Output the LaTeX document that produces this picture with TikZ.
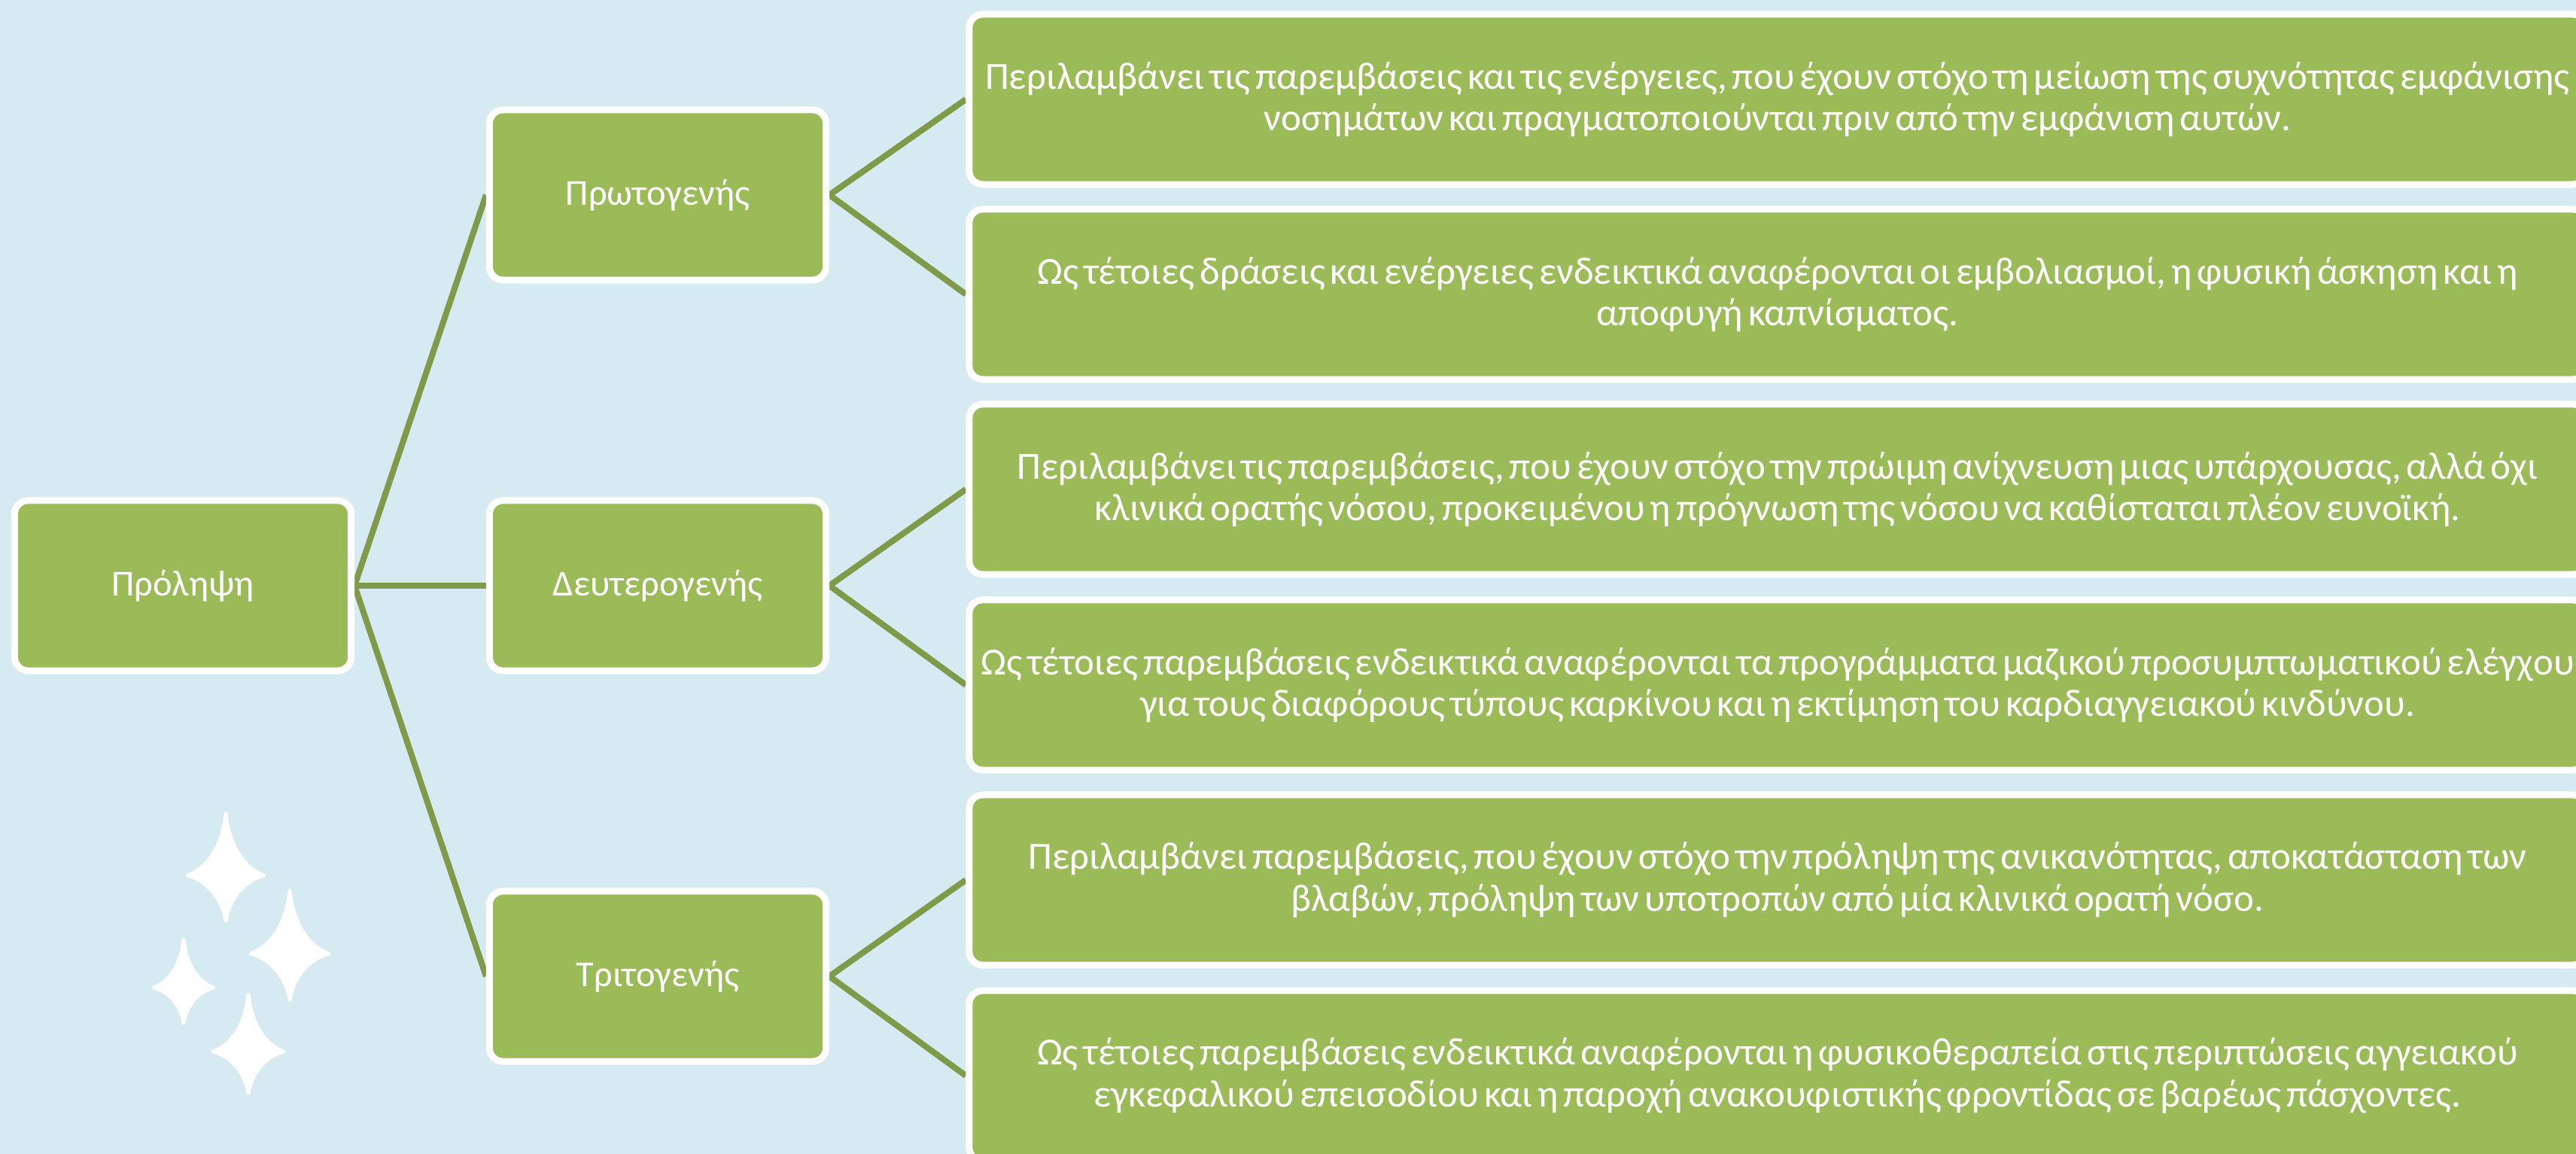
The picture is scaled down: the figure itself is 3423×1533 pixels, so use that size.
\documentclass[tikz,border=0pt]{standalone}
\usepackage{fontspec}
\setmainfont{Carlito}
\newfontfamily\notefont[WordSpace=0.6]{Carlito}
\usetikzlibrary{backgrounds}
\definecolor{bgblue}{RGB}{214,234,241}
\definecolor{leafgreen}{RGB}{155,187,89}
\definecolor{linkgreen}{RGB}{127,154,72}

\begin{document}
\begin{tikzpicture}[x=0.01cm, y=0.01cm, every node/.style={text=white},
	block/.style={draw=white, fill=leafgreen, line width=0.09cm, rounded corners=0.18cm,
		minimum width=4.47cm, minimum height=2.26cm, inner sep=0pt, font=\fontsize{13.8pt}{15.6pt}\selectfont},
	note/.style={block, minimum width=21.47cm, align=center, font=\notefont\fontsize{14.5pt}{15.8pt}\selectfont},
	link/.style={draw=linkgreen, line width=0.08cm},
	sparkle/.pic={\fill[white, draw=white, line width=0.05cm, line join=round]
		(0,82) .. controls (5,34) and (28,8) .. (51,0) .. controls (28,-5) and (5,-28) .. (0,-60)
		.. controls (-5,-28) and (-28,-5) .. (-51,0) .. controls (-28,8) and (-5,34) .. (0,82) -- cycle;}]
	\useasboundingbox (0,0) rectangle (3423,1533);
	\clip (0,0) rectangle (3423,1533);

	% tree
	\node[block] (prevent) at (243,755) {Πρόληψη};
	\node[block] (prim) at (874,1274) {Πρωτογενής};
	\node[block] (sec) at (874,755) {Δευτερογενής};
	\node[block] (tert) at (874,236) {Τριτογενής};

	\node[note] (prim1) at (2362,1401) {Περιλαμβάνει τις παρεμβάσεις και τις ενέργειες, που έχουν στόχο τη μείωση της συχνότητας εμφάνισης\\ νοσημάτων και πραγματοποιούνται πριν από την εμφάνιση αυτών.};
	\node[note] (prim2) at (2362,1142) {Ως τέτοιες δράσεις και ενέργειες ενδεικτικά αναφέρονται οι εμβολιασμοί, η φυσική άσκηση και η\\ αποφυγή καπνίσματος.};
	\node[note] (sec1) at (2362,883) {Περιλαμβάνει τις παρεμβάσεις, που έχουν στόχο την πρώιμη ανίχνευση μιας υπάρχουσας, αλλά όχι\\ κλινικά ορατής νόσου, προκειμένου η πρόγνωση της νόσου να καθίσταται πλέον ευνοϊκή.};
	\node[note] (sec2) at (2362,623) {Ως τέτοιες παρεμβάσεις ενδεικτικά αναφέρονται τα προγράμματα μαζικού προσυμπτωματικού ελέγχου\\ για τους διαφόρους τύπους καρκίνου και η εκτίμηση του καρδιαγγειακού κινδύνου.};
	\node[note] (tert1) at (2362,364) {Περιλαμβάνει παρεμβάσεις, που έχουν στόχο την πρόληψη της ανικανότητας, αποκατάσταση των\\ βλαβών, πρόληψη των υποτροπών από μία κλινικά ορατή νόσο.};
	\node[note] (tert2) at (2362,104) {Ως τέτοιες παρεμβάσεις ενδεικτικά αναφέρονται η φυσικοθεραπεία στις περιπτώσεις αγγειακού\\ εγκεφαλικού επεισοδίου και η παροχή ανακουφιστικής φροντίδας σε βαρέως πάσχοντες.};

	% sparkles
	\foreach \sx/\sy/\ss in {300/370/1, 385/266/1.02, 244/221/0.78, 330/136/0.92}
		\pic[scale=\ss] at (\sx,\sy) {sparkle};

	\begin{scope}[on background layer]
		\fill[bgblue] (0,0) rectangle (3423,1533);
		\foreach \b in {prim,sec,tert} {
			\draw[link] (prevent.east) -- (\b.west);
			\draw[link] (\b.east) -- (\b1.west);
			\draw[link] (\b.east) -- (\b2.west);
		}
	\end{scope}
\end{tikzpicture}
\end{document}
